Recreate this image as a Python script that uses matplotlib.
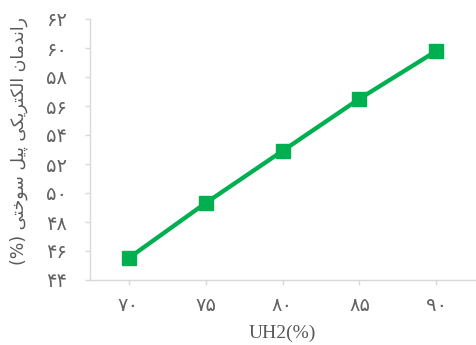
import matplotlib
matplotlib.use("Agg")
import matplotlib.pyplot as plt

# Fuel cell electrical efficiency vs hydrogen utilisation
uh2 = [70, 75, 80, 85, 90]
efficiency = [45.5, 49.3, 52.9, 56.5, 59.8]
y_ticks = [44, 46, 48, 50, 52, 54, 56, 58, 60, 62]

x_title = 'UH2(%)'
y_title = 'راندمان الکتریکی پیل سوختی'

# Arabic presentation forms: isolated, final, initial, medial
FORMS = {
    'ا': ('\uFE8D', '\uFE8E', None, None),
    'د': ('\uFEA9', '\uFEAA', None, None),
    'ر': ('\uFEAD', '\uFEAE', None, None),
    'و': ('\uFEED', '\uFEEE', None, None),
    'ن': ('\uFEE5', '\uFEE6', '\uFEE7', '\uFEE8'),
    'م': ('\uFEE1', '\uFEE2', '\uFEE3', '\uFEE4'),
    'ل': ('\uFEDD', '\uFEDE', '\uFEDF', '\uFEE0'),
    'ک': ('\uFB8E', '\uFB8F', '\uFB90', '\uFB91'),
    'ت': ('\uFE95', '\uFE96', '\uFE97', '\uFE98'),
    'ی': ('\uFBFC', '\uFBFD', '\uFBFE', '\uFBFF'),
    'پ': ('\uFB56', '\uFB57', '\uFB58', '\uFB59'),
    'س': ('\uFEB1', '\uFEB2', '\uFEB3', '\uFEB4'),
    'خ': ('\uFEA5', '\uFEA6', '\uFEA7', '\uFEA8'),
}


def shape(word):
    out = []
    for i, ch in enumerate(word):
        forms = FORMS[ch]
        joins_prev = i > 0 and FORMS[word[i - 1]][2] is not None
        joins_next = i < len(word) - 1 and forms[2] is not None
        if joins_prev and joins_next:
            out.append(forms[3])
        elif joins_prev:
            out.append(forms[1])
        elif joins_next:
            out.append(forms[2])
        else:
            out.append(forms[0])
    return ''.join(out)


def rtl(text):
    # matplotlib lays text out left to right, so reverse the shaped glyphs
    return ' '.join(shape(w) for w in text.split())[::-1]


to_fa = str.maketrans('0123456789', '۰۱۲۳۴۵۶۷۸۹')

fig = plt.figure(figsize=(4.77, 3.45), dpi=100)
ax = fig.add_axes([90 / 477, 1 - 280 / 345, 385 / 477, 261 / 345])

xs = list(range(len(uh2)))
ax.plot(xs, efficiency, color='#00B050', linewidth=3.1,
        marker='s', markersize=9.5, solid_capstyle='butt')

ax.set_xlim(-0.5, len(uh2) - 0.5)
ax.set_ylim(y_ticks[0], y_ticks[-1])
ax.set_xticks(xs)
ax.set_xticklabels([str(v).translate(to_fa) for v in uh2])
ax.set_yticks(y_ticks)
ax.set_yticklabels([str(v).translate(to_fa) for v in y_ticks])

for side in ['top', 'right']:
    ax.spines[side].set_visible(False)
for side in ['left', 'bottom']:
    ax.spines[side].set_color('#d9d9d9')
    ax.spines[side].set_linewidth(1.0)

ax.tick_params(axis='both', colors='#d9d9d9', length=3.6, width=1.0,
               labelcolor='#636363', labelsize=14)
ax.tick_params(axis='x', pad=8)
ax.tick_params(axis='y', pad=13)
for lbl in ax.get_xticklabels() + ax.get_yticklabels():
    lbl.set_family('DejaVu Sans')

ax.set_xlabel(x_title, family='Liberation Serif', fontsize=14,
              color='#595959', labelpad=7)
fig.text(19 / 477, 1 - 141 / 345, '(%) ' + rtl(y_title), rotation=90,
         ha='center', va='center', family='DejaVu Sans', fontsize=12.5,
         color='#595959')

fig.savefig('out.png', dpi=100)
